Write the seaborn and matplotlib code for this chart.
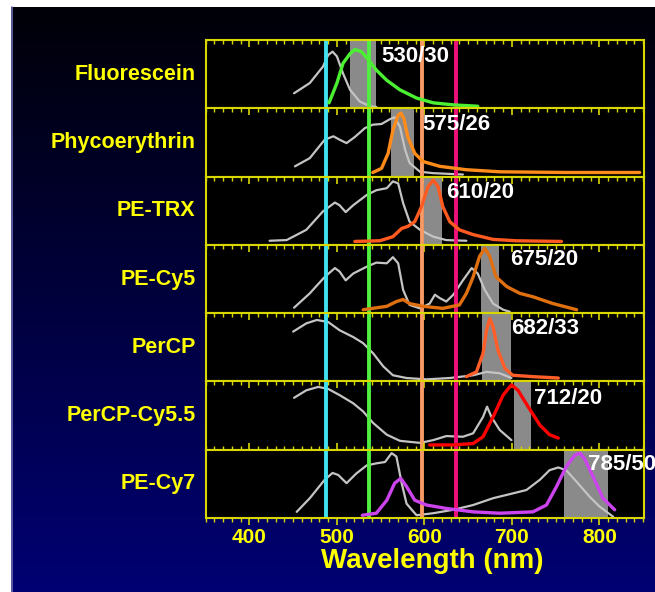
import numpy as np
import pandas as pd
import matplotlib
matplotlib.use("Agg")
import matplotlib.pyplot as plt
from matplotlib.lines import Line2D
from matplotlib.ticker import MultipleLocator
import seaborn as sns

# ---------------- data ----------------
DYES = ["Fluorescein", "Phycoerythrin", "PE-TRX", "PE-Cy5", "PerCP", "PerCP-Cy5.5", "PE-Cy7"]
FILTER_CENTER = [530, 575, 610, 675, 682, 712, 785]
FILTER_WIDTH = [30, 26, 20, 20, 33, 20, 50]
FILTER_LABELS = ["530/30", "575/26", "610/20", "675/20", "682/33", "712/20", "785/50"]
LASER_NM = [488, 537, 597, 636]
X_TICKS = [400, 500, 600, 700, 800]

# absorption (grey) and emission (coloured) curves: wavelength, relative value
FITC_ABS_NM = [451, 469, 484, 490, 495, 500, 507, 515, 526, 538, 545]
FITC_ABS = [0.22, 0.37, 0.61, 0.78, 0.83, 0.76, 0.51, 0.27, 0.10, 0.03, 0.02]
FITC_EM_NM = [491, 500, 507, 515, 520.5, 528, 536, 545, 557, 572, 591, 610, 633, 661]
FITC_EM = [0.08, 0.37, 0.66, 0.80, 0.86, 0.83, 0.71, 0.56, 0.41, 0.27, 0.15, 0.08, 0.05, 0.03]

PE_ABS_NM = [452, 469, 486, 496, 503, 511, 520.5, 532, 541, 551, 560.5, 566, 572, 578, 583, 595, 610, 644]
PE_ABS = [0.15, 0.27, 0.54, 0.59, 0.54, 0.49, 0.58, 0.71, 0.76, 0.77, 0.84, 0.87, 0.73, 0.39, 0.20, 0.07, 0.05, 0.03]
PE_EM_NM = [541, 551, 558.5, 564, 570, 573, 576.5, 581, 589, 598.5, 617.6, 648, 686, 762, 846]
PE_EM = [0.06, 0.12, 0.34, 0.68, 0.90, 0.93, 0.85, 0.58, 0.34, 0.22, 0.15, 0.10, 0.07, 0.06, 0.06]

PETR_ABS_NM = [423, 442.5, 465, 484, 497.7, 503, 510, 518.6, 534, 545, 557, 564, 570, 575.7, 583, 595, 610, 625, 648]
PETR_ABS = [0.06, 0.07, 0.22, 0.49, 0.62, 0.58, 0.48, 0.58, 0.73, 0.80, 0.83, 0.93, 0.90, 0.61, 0.34, 0.22, 0.12, 0.07, 0.06]
PETR_EM_NM = [520.5, 549, 564, 574, 581, 589, 596.7, 604, 610, 615.7, 621, 629, 640, 655.7, 678.5, 705, 756.6]
PETR_EM = [0.05, 0.06, 0.12, 0.24, 0.27, 0.34, 0.56, 0.85, 0.95, 0.85, 0.56, 0.34, 0.22, 0.15, 0.08, 0.06, 0.05]

PECY5_ABS_NM = [451, 469, 486, 497.7, 503, 510, 518.6, 534, 545, 557, 564, 570, 575.7, 583, 595, 606, 612,
                617.6, 625, 633, 644, 654, 661, 669, 678.5, 690, 697.6]
PECY5_ABS = [0.08, 0.29, 0.53, 0.66, 0.61, 0.48, 0.58, 0.68, 0.74, 0.73, 0.82, 0.73, 0.34, 0.12, 0.07, 0.14, 0.27,
             0.22, 0.17, 0.27, 0.48, 0.66, 0.58, 0.34, 0.14, 0.05, 0.02]
PECY5_EM_NM = [530, 557, 568, 575.7, 583, 598.5, 621, 640, 648, 655.7, 663, 669, 674.7, 682, 694, 709, 724, 747, 774]
PECY5_EM = [0.05, 0.10, 0.17, 0.20, 0.14, 0.10, 0.07, 0.12, 0.29, 0.53, 0.83, 0.95, 0.83, 0.53, 0.39, 0.29, 0.24, 0.14, 0.05]

PERCP_ABS_NM = [450, 465, 477, 490, 503, 518.6, 530, 541.5, 553, 564, 579.6, 602.4, 629, 655.7, 671, 686, 699.5]
PERCP_ABS = [0.73, 0.85, 0.90, 0.87, 0.75, 0.65, 0.56, 0.41, 0.22, 0.09, 0.05, 0.03, 0.05, 0.09, 0.14, 0.12, 0.05]
PERCP_EM_NM = [648, 659.5, 667, 671, 674.7, 678.5, 684, 692, 701, 724, 753]
PERCP_EM = [0.07, 0.14, 0.41, 0.75, 0.92, 0.80, 0.46, 0.19, 0.09, 0.07, 0.05]

PCY55_ABS_NM = [451, 465, 478.6, 490, 503, 518.6, 530, 541.5, 557, 572, 595, 610, 625, 644, 655.7, 667, 671.6,
                676.6, 686, 699.5]
PCY55_ABS = [0.76, 0.87, 0.92, 0.89, 0.80, 0.68, 0.56, 0.39, 0.22, 0.13, 0.10, 0.14, 0.20, 0.19, 0.24, 0.48, 0.63,
             0.48, 0.29, 0.14]
PCY55_EM_NM = [606, 633, 655.7, 667, 678.5, 690, 699.5, 707, 718.5, 732, 743, 753]
PCY55_EM = [0.07, 0.07, 0.09, 0.19, 0.48, 0.80, 0.95, 0.87, 0.63, 0.36, 0.22, 0.17]

PECY7_ABS_NM = [454, 469, 486, 495, 501.5, 511, 522, 534, 545, 555, 562.5, 568, 574, 579.6, 591, 610, 633, 655.7,
                678.5, 701, 716.6, 732, 743, 753, 762, 774, 789, 800, 815.6]
PECY7_ABS = [0.09, 0.29, 0.56, 0.66, 0.63, 0.51, 0.65, 0.77, 0.80, 0.82, 0.95, 0.90, 0.51, 0.21, 0.04, 0.07, 0.12, 0.19,
             0.29, 0.36, 0.41, 0.56, 0.70, 0.74, 0.70, 0.53, 0.31, 0.17, 0.02]
PECY7_EM_NM = [529, 545, 557, 566, 573, 579.6, 589, 602.4, 625, 655.7, 686, 724, 739.5, 751, 762, 772, 777.5, 783,
               793, 804, 817.5]
PECY7_EM = [0.04, 0.07, 0.26, 0.51, 0.58, 0.46, 0.26, 0.19, 0.14, 0.09, 0.07, 0.09, 0.19, 0.46, 0.75, 0.92, 0.95, 0.87,
            0.60, 0.29, 0.12]

ABS_NM = [FITC_ABS_NM, PE_ABS_NM, PETR_ABS_NM, PECY5_ABS_NM, PERCP_ABS_NM, PCY55_ABS_NM, PECY7_ABS_NM]
ABS_VAL = [FITC_ABS, PE_ABS, PETR_ABS, PECY5_ABS, PERCP_ABS, PCY55_ABS, PECY7_ABS]
EM_NM = [FITC_EM_NM, PE_EM_NM, PETR_EM_NM, PECY5_EM_NM, PERCP_EM_NM, PCY55_EM_NM, PECY7_EM_NM]
EM_VAL = [FITC_EM, PE_EM, PETR_EM, PECY5_EM, PERCP_EM, PCY55_EM, PECY7_EM]

# ---------------- styles ----------------
EM_COLORS = ["#4CF032", "#FF8C1A", "#FF5A1F", "#E0700F", "#FF5E28", "#FF0000", "#CC44EE"]
LASER_COLORS = ["#40E0F0", "#50F040", "#F89A66", "#F0107A"]
LABEL_X = [551, 598, 625, 698, 699.5, 725, 787]
LABEL_Y = [0.76, 0.76, 0.76, 0.78, 0.78, 0.75, 0.78]
YELLOW = "#FFFF00"
FRAME = "#D8D800"

sns.set_style("dark")
plt.rcParams["font.family"] = ["Liberation Sans", "DejaVu Sans"]
plt.rcParams["font.weight"] = "bold"

W, H = 655, 592
fig = plt.figure(figsize=(W / 100, H / 100), dpi=100, facecolor="white")

# gradient background
bg = fig.add_axes([11 / W, 0, 1 - 11 / W, 1 - 7 / H], zorder=-10)
grad = np.linspace(0, 1, 256).reshape(-1, 1)
top_c = np.array([0.0, 0.0, 0.03])
bot_c = np.array([0.0, 0.0, 0.45])
img = top_c[None, None, :] * (1 - grad[..., None]) + bot_c[None, None, :] * grad[..., None]
img = np.repeat(img, 2, axis=1)
bg.imshow(img, aspect="auto", extent=[0, 1, 0, 1], origin="upper")
bg.set_axis_off()
fig.add_artist(Line2D([11.5 / W, 11.5 / W], [0, 1 - 7 / H], transform=fig.transFigure,
                      color="#6A6AB0", lw=1.2))

left, right = 205.7 / W, 644 / W
top, bottom = 1 - 40 / H, 1 - 518 / H
n = len(DYES)
rowh = (top - bottom) / n
axes = []
for i in range(n):
    ax = fig.add_axes([left, top - (i + 1) * rowh, right - left, rowh])
    axes.append(ax)

for i, ax in enumerate(axes):
    ax.set_facecolor("black")
    ax.set_xlim(350, 851)
    ax.set_ylim(0, 1)
    c, w = FILTER_CENTER[i], FILTER_WIDTH[i]
    ax.axvspan(c - w / 2, c + w / 2, color="#8A8A8A", zorder=1, lw=0)
    dfa = pd.DataFrame({"nm": ABS_NM[i], "val": ABS_VAL[i]})
    sns.lineplot(data=dfa, x="nm", y="val", ax=ax, color="#C4C4C4", lw=1.6, zorder=2, sort=False)
    for lx, lc in zip(LASER_NM, LASER_COLORS):
        ax.axvline(lx, color=lc, lw=2.8, zorder=3)
    dfe = pd.DataFrame({"nm": EM_NM[i], "val": EM_VAL[i]})
    sns.lineplot(data=dfe, x="nm", y="val", ax=ax, color=EM_COLORS[i], lw=2.4, zorder=4, sort=False)
    ax.text(LABEL_X[i], LABEL_Y[i], FILTER_LABELS[i], color="white", fontsize=16, fontweight="bold",
            ha="left", va="center", zorder=6, clip_on=False)
    ax.text(-0.023, 0.5, DYES[i], transform=ax.transAxes, color=YELLOW, fontsize=15.5,
            fontweight="bold", ha="right", va="center")
    for s in ax.spines.values():
        s.set_color(FRAME)
        s.set_linewidth(1.5)
        s.set_zorder(7)
        s.set_visible(True)
    ax.set_xlabel("")
    ax.set_ylabel("")
    ax.set_yticks([])
    ax.xaxis.set_major_locator(MultipleLocator(100))
    ax.xaxis.set_minor_locator(MultipleLocator(10))
    ax.grid(False)
    if i < n - 1:
        ax.tick_params(axis="x", which="both", bottom=False, top=True, direction="in",
                       labelbottom=False, color=FRAME)
    else:
        ax.tick_params(axis="x", which="both", bottom=True, top=True, direction="in",
                       labelbottom=True, color=FRAME)
        ax.tick_params(axis="x", which="both", bottom=True, direction="out")
        ax.set_xticks(X_TICKS)
        ax.set_xticklabels([str(t) for t in X_TICKS], color=YELLOW, fontsize=15, fontweight="bold")
    ax.tick_params(axis="x", which="major", length=5, width=1.2, pad=2.5)
    ax.tick_params(axis="x", which="minor", length=3, width=1.0)

fig.text(432.5 / W, 1 - 568 / H, "Wavelength (nm)", color=YELLOW, fontsize=20, fontweight="bold",
         ha="center", va="baseline")

fig.savefig("out.png", dpi=100, facecolor=fig.get_facecolor())
